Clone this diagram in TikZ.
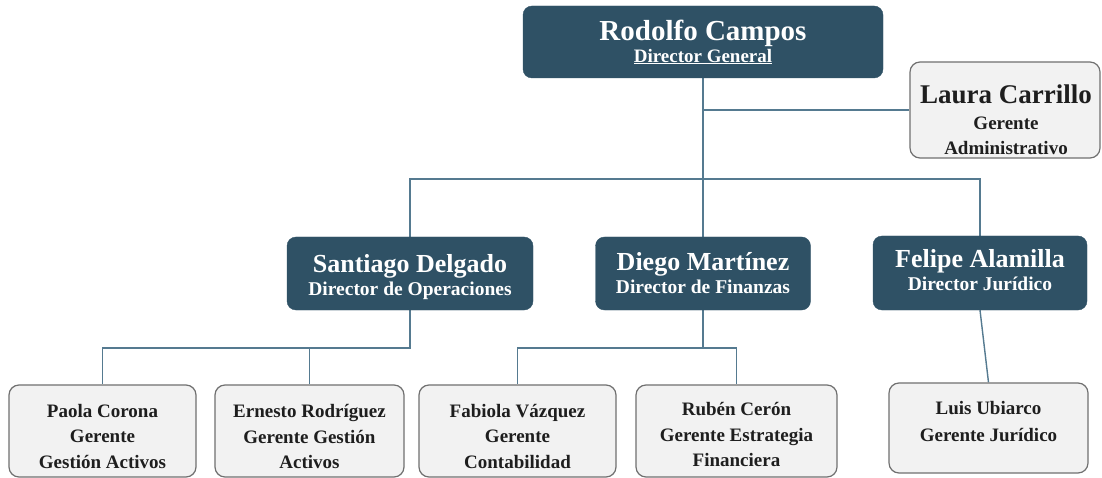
\documentclass[tikz,border=0pt]{standalone}
\usepackage{fontspec}
\setmainfont{Liberation Serif}
\usetikzlibrary{backgrounds}
\definecolor{dark}{HTML}{2F5165}
\definecolor{light}{HTML}{F2F2F2}
\definecolor{bordergray}{HTML}{707070}
\definecolor{txt}{HTML}{1E1E1E}
\definecolor{linecol}{HTML}{557A90}
\tikzset{
  boss/.style={rounded corners=9pt, fill=dark, draw=dark, inner sep=0pt},
  mgr/.style={rounded corners=10pt, fill=light, draw=bordergray, line width=1.2pt, inner sep=0pt},
  bosstext/.style={text=white, align=center, inner sep=0pt,
    font=\bfseries\fontsize{19.5}{23}\selectfont},
  mgrtext/.style={text=txt, align=center, inner sep=0pt,
    font=\bfseries\fontsize{19}{25.5}\selectfont},
  conn/.style={draw=linecol, line width=1.4pt},
}
\begin{document}
\begin{tikzpicture}[x=1pt,y=-1pt]
\useasboundingbox (0,0) rectangle (1102,478);
\coordinate (bus) at (703,179);
% boxes
\node[boss, minimum width=360pt, minimum height=72pt] (rodolfo) at (703,42) {};
\node[mgr, minimum width=190pt, minimum height=96pt] (laura) at (1005,110) {};
\node[boss, minimum width=246pt, minimum height=73pt] (santiago) at (410,273.5) {};
\node[boss, minimum width=215pt, minimum height=73pt] (diego) at (703,273.5) {};
\node[boss, minimum width=214pt, minimum height=74pt] (felipe) at (980,273) {};
\node[mgr, minimum width=187pt, minimum height=92pt] (paola) at (102.5,431) {};
\node[mgr, minimum width=189pt, minimum height=92pt] (ernesto) at (309.5,431) {};
\node[mgr, minimum width=197pt, minimum height=92pt] (fabiola) at (517.5,431) {};
\node[mgr, minimum width=201pt, minimum height=92pt] (ruben) at (736.5,431) {};
\node[mgr, minimum width=199pt, minimum height=90pt] (luis) at (988.5,428) {};
% texts
\node[bosstext, font=\bfseries\fontsize{19}{22}\selectfont] (rodolfoT) at (703,42)
  {{\fontsize{29}{29}\selectfont Rodolfo Campos}\\\underline{Director General}};
\node[mgrtext] (lauraT) at (1006,120)
  {{\fontsize{27}{27}\selectfont Laura Carrillo}\\Gerente\\Administrativo};
\node[bosstext] (santiagoT) at (410,277.5)
  {{\fontsize{26}{26}\selectfont Santiago Delgado}\\Director de Operaciones};
\node[bosstext] (diegoT) at (703,273)
  {{\fontsize{26}{26}\selectfont Diego Martínez}\\Director de Finanzas};
\node[bosstext] (felipeT) at (980,270)
  {{\fontsize{26}{26}\selectfont Felipe Alamilla}\\Director Jurídico};
\node[mgrtext] (paolaT) at (102.5,436)
  {Paola Corona\\Gerente\\Gestión Activos};
\node[mgrtext] (ernestoT) at (309.5,436.5)
  {Ernesto Rodríguez\\Gerente Gestión\\Activos};
\node[mgrtext] (fabiolaT) at (517.5,436)
  {Fabiola Vázquez\\Gerente\\Contabilidad};
\node[mgrtext] (rubenT) at (736.5,434.5)
  {Rubén Cerón\\Gerente Estrategia\\Financiera};
\node[mgrtext, font=\bfseries\fontsize{19}{27}\selectfont] (luisT) at (988.5,422)
  {Luis Ubiarco\\Gerente Jurídico};
\coordinate (sbus) at (410,348);
\coordinate (dbus) at (703,348);
\begin{scope}[on background layer]
\fill[white] (0,0) rectangle (1102,478);
\draw[conn] (rodolfo.south) |- (laura.west);
\draw[conn] (rodolfo.south) -- (diego.north);
\draw[conn] (santiago.north) |- (bus) -| (felipe.north);
\draw[conn] (santiago.south) -- (sbus) -| (paola.north);
\draw[conn] (ernesto.north) -- (ernesto.north |- sbus);
\draw[conn] (diego.south) -- (dbus) -| (fabiola.north);
\draw[conn] (dbus) -| (ruben.north);
\draw[conn] (felipe.south) -- (luis.north);
\end{scope}
\end{tikzpicture}
\end{document}
